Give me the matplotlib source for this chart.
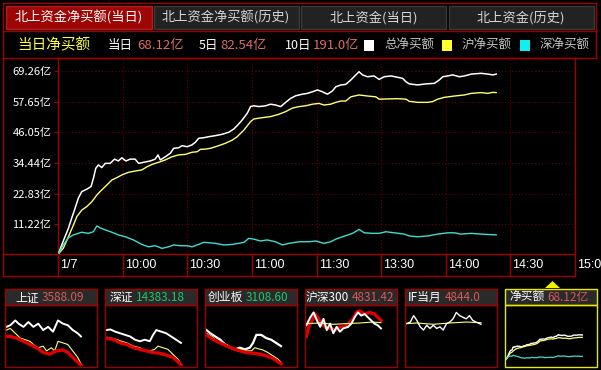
import matplotlib
matplotlib.use("Agg")
import matplotlib.pyplot as plt
from matplotlib.patches import Rectangle, Polygon
from matplotlib.lines import Line2D
from matplotlib.text import Annotation
from matplotlib.transforms import blended_transform_factory

CJK = ["Noto Sans CJK SC", "DejaVu Sans"]

# ---- main chart data (minutes since 9:30, lunch break removed; values in 亿) ----
total_t = [0, 1.6, 3.1, 4.7, 6.2, 7.8, 9.3, 10.9, 13.2, 15.2, 16.3, 17.4, 18.6, 20.2, 21.8, 24.1,
           26.1, 27.9, 29.5, 31.4, 33.4, 35.7, 37.3, 39.6, 42.7, 45.0, 46.3, 47.4, 49.7, 52.0, 53.6,
           55.9, 57.5, 59.8, 62.1, 63.7, 65.2, 67.5, 69.9, 73.0, 76.1, 79.2, 81.5, 83.1, 85.4, 87.8,
           89.3, 90.8, 93.2, 96.3, 98.6, 100.9, 103.3, 105.6, 107.9, 110.3, 113.4, 115.7, 118.0,
           120.4, 122.7, 125.0, 127.3, 128.9, 131.2, 133.5, 135.9, 138.2, 139.7, 141.3, 143.6, 146.7,
           149.0, 151.4, 154.5, 157.6, 159.9, 161.5, 163.0, 166.9, 170.8, 174.7, 177.0, 178.6, 180.9,
           183.2, 186.3, 188.6, 191.8, 196.4, 199.5, 201.9, 203.4]
total = [0, 3.4, 6.5, 9.7, 13.5, 17.3, 21.1, 23.6, 24.5, 25.5, 28.6, 32.4, 33.7, 32.7, 34.3, 34.3,
         35.9, 35.2, 36.4, 35.2, 35.9, 35.9, 34.3, 34.7, 35.2, 35.9, 37.5, 35.6, 36.8, 38.1, 40.0,
         40.2, 41.0, 40.6, 41.3, 42.3, 43.8, 44.0, 44.4, 44.8, 45.3, 46.1, 47.3, 48.6, 50.7, 53.3,
         55.8, 56.1, 55.8, 56.1, 56.7, 56.4, 55.8, 57.4, 58.9, 59.9, 60.5, 60.8, 61.4,
         62.1, 61.4, 60.5, 61.7, 63.3, 64.0, 64.2, 65.9, 67.8, 69.0, 67.8, 67.1, 67.4,
         66.1, 67.1, 67.4, 66.9, 66.5, 65.2, 64.4, 64.0, 64.4, 64.6, 65.9, 67.1, 67.4,
         67.8, 67.1, 67.4, 68.1, 68.4, 68.1, 67.8, 68.1]

sh_t = [0, 2.3, 4.7, 7.0, 8.6, 10.9, 13.2, 15.6, 17.9, 19.4, 21.8, 24.9, 27.2, 29.5, 32.6, 35.7,
        38.8, 41.2, 43.5, 46.6, 49.7, 52.8, 55.9, 59.0, 62.1, 64.5, 66.0, 68.3, 70.7, 74.5, 77.6,
        80.8, 83.1, 86.2, 89.3, 90.8, 94.7, 98.6, 102.5, 105.6, 108.7, 111.8, 114.9, 118.0, 121.1,
        123.4, 126.5, 128.9, 131.2, 133.5, 135.9, 139.7, 143.6, 147.5, 149.0, 153.0, 157.6, 161.5,
        163.0, 166.9, 171.6, 173.9, 176.2, 179.3, 184.0, 188.6, 191.8, 196.4, 199.5, 201.9, 203.4]
sh = [0, 2.1, 6.5, 10.9, 14.1, 16.6, 17.9, 19.8, 22.3, 23.6, 25.5, 28.0, 28.9, 29.9, 30.9, 31.4,
      31.8, 33.0, 33.9, 34.7, 35.6, 36.8, 37.5, 37.7, 38.5, 38.7, 39.6, 39.7, 40.0, 41.0, 41.9,
      43.1, 44.4, 46.9, 50.1, 51.1, 51.6, 52.0, 52.9, 53.9, 55.2, 55.8, 56.1, 56.7, 57.0,
      56.4, 56.7, 57.4, 57.9, 57.9, 59.5, 60.2, 59.8, 59.5, 58.6, 58.7, 58.8, 58.6,
      57.8, 57.4, 57.4, 57.7, 58.6, 59.3, 59.8, 60.2, 60.8, 61.1, 60.8, 61.2, 61.1]

sz_t = [0, 2.3, 4.7, 7.0, 9.3, 10.9, 14.0, 16.3, 17.9, 19.4, 21.8, 24.9, 27.9, 31.1, 34.9, 38.8,
        41.9, 45.0, 48.2, 51.2, 53.6, 56.7, 59.8, 62.1, 65.2, 67.5, 73.0, 76.9, 80.8, 83.8, 86.2,
        88.5, 90.8, 93.9, 97.0, 100.9, 104.1, 107.1, 111.8, 116.4, 119.6, 123.4, 126.5, 128.9,
        132.0, 136.7, 139.7, 142.1, 146.0, 149.0, 152.2, 156.0, 160.7, 163.0, 166.9, 171.6,
        176.2, 180.9, 184.0, 187.1, 191.8, 196.4, 203.4]
sz = [0, 3.4, 6.1, 7.2, 7.8, 8.2, 7.8, 8.4, 10.6, 9.9, 9.1, 8.2, 7.2, 6.5, 5.3, 3.6,
      2.7, 3.1, 2.1, 2.7, 3.4, 3.1, 3.1, 2.7, 3.6, 4.4, 4.0, 3.4, 3.6, 4.0, 4.4,
      5.9, 5.6, 4.9, 5.3, 4.6, 3.4, 4.0, 4.6, 4.6, 4.9, 4.0, 4.6, 5.6,
      6.5, 7.8, 9.3, 8.0, 7.8, 7.8, 8.4, 8.0, 7.5, 6.8, 6.5, 6.8,
      7.5, 8.0, 8.0, 7.5, 7.8, 7.5, 7.2]

y_levels = [11.22, 22.83, 34.44, 46.05, 57.65, 69.26]
time_ticks = [0, 30, 60, 90, 120, 150, 180, 210, 240]
time_labels = ["1/7", "10:00", "10:30", "11:00", "11:30", "13:30", "14:00", "14:30", "15:00"]

tabs = ["北上资金净买额(当日)", "北上资金净买额(历史)", "北上资金(当日)", "北上资金(历史)"]
period_names = ["当日", "5日", "10日"]
period_values = ["68.12亿", "82.54亿", "191.0亿"]
legend_names = ["总净买额", "沪净买额", "深净买额"]

# ---- thumbnails (relative levels) ----
thumb_names = ["上证", "深证", "创业板", "沪深300", "IF当月", "净买额"]
thumb_values = ["3588.09", "14383.18", "3108.60", "4831.42", "4844.0", "68.12亿"]
thumb_value_colors = ["#d85a5a", "#22c46a", "#22c46a", "#d85a5a", "#d85a5a", "#d85a5a"]

p1_white_t = [0, 10.6, 23.8, 32.6, 45.8, 59, 72.2, 85.4, 98.6, 111.8, 125, 138.2, 151.4, 164.6, 177.8, 191, 199.8]
p1_white = [122, 127, 142, 132, 122, 137, 122, 132, 112, 122, 107, 142, 132, 127, 112, 102, 92]
p1_yellow_t = [0, 10.6, 23.8, 37, 50.2, 63.4, 72.2, 85.4, 98.6, 107.4, 120.6, 129.4, 138.2, 151.4, 164.6, 177.8, 191, 199.8]
p1_yellow = [112, 117, 102, 87, 82, 77, 67, 57, 62, 47, 57, 47, 77, 72, 67, 47, 27, 7]
p1_red_t = [0, 10.6, 28.2, 45.8, 63.4, 81, 98.6, 116.2, 133.8, 151.4, 164.6, 177.8, 191, 199.8]
p1_red = [92, 92, 87, 77, 67, 57, 42, 37, 47, 50, 42, 27, 12, 2]

p2_white_t = [0, 10.6, 23.8, 37, 50.2, 63.4, 76.6, 89.8, 103, 116.2, 125, 133.8, 147, 160.2, 173.4, 186.6, 199.8]
p2_white = [112, 114, 107, 102, 97, 92, 82, 77, 82, 77, 97, 112, 107, 102, 92, 82, 72]
p2_yellow_t = [0, 15, 28.2, 41.4, 54.6, 72.2, 89.8, 103, 116.2, 129.4, 138.2, 151.4, 164.6, 177.8, 191, 199.8]
p2_yellow = [87, 87, 82, 77, 72, 62, 57, 47, 47, 52, 62, 57, 52, 37, 22, 7]
p2_red_t = [0, 19.4, 37, 54.6, 72.2, 89.8, 107.4, 125, 142.6, 160.2, 177.8, 191, 199.8]
p2_red = [87, 82, 72, 67, 57, 52, 47, 42, 40, 34, 27, 14, 4]

p3_white_t = [0, 10.6, 23.8, 37, 50.2, 63.4, 76.6, 89.8, 103, 116.2, 125, 133.8, 147, 160.2, 173.4, 186.6, 199.8]
p3_white = [112, 102, 92, 82, 67, 57, 52, 57, 52, 57, 72, 97, 97, 87, 82, 72, 62]
p3_yellow_t = [0, 15, 28.2, 41.4, 54.6, 67.8, 81, 94.2, 107.4, 120.6, 129.4, 138.2, 151.4, 164.6, 177.8, 191, 199.8]
p3_yellow = [102, 92, 77, 67, 67, 57, 52, 52, 47, 47, 57, 54, 50, 42, 32, 22, 12]
p3_red_t = [0, 19.4, 37, 54.6, 72.2, 89.8, 107.4, 125, 142.6, 160.2, 177.8, 191, 199.8]
p3_red = [97, 82, 72, 62, 54, 47, 42, 40, 37, 32, 24, 14, 7]

p4_white_t = [0, 10.6, 19.4, 28.2, 37, 45.8, 54.6, 63.4, 72.2, 81, 89.8, 98.6, 111.8, 120.6, 129.4,
              138.2, 147, 155.8, 164.6, 173.4, 182.2, 191, 199.8]
p4_white = [127, 152, 167, 142, 122, 147, 112, 132, 102, 122, 107, 117, 122, 132, 152,
            167, 157, 162, 152, 142, 132, 127, 117]
p4_yellow_t = [0, 37, 72.2, 107.4, 142.6, 177.8, 199.8]
p4_yellow = [132, 134, 130, 132, 134, 137, 135]
p4_red_t = [0, 6.2, 15, 23.8, 32.6, 41.4, 50.2, 63.4, 76.6, 89.8, 103, 116.2, 125, 133.8, 142.6,
            155.8, 169, 182.2, 191, 199.8]
p4_red = [92, 122, 142, 162, 147, 132, 122, 117, 112, 122, 122, 137, 147, 167, 172,
          162, 167, 162, 152, 142]

p5_white_t = [0, 10.6, 19.4, 28.2, 37, 45.8, 54.6, 63.4, 72.2, 81, 89.8, 98.6, 107.4, 116.2, 125,
              133.8, 142.6, 151.4, 160.2, 169, 177.8, 186.6, 199.8]
p5_white = [132, 137, 157, 142, 122, 112, 127, 117, 127, 117, 122, 112, 132, 137, 147,
            167, 157, 152, 147, 157, 142, 137, 130]
p5_yellow_t = [0, 28.2, 72.2, 116.2, 160.2, 199.8]
p5_yellow = [132, 134, 130, 134, 137, 135]

# ---- colours ----
BG = "black"
RED = "#a00000"
GRID = "#6a0000"
WHITE_LINE = "white"
YELLOW_LINE = "#ffff70"
CYAN_LINE = "#3fdcd0"
THICK_RED = "#e00000"

W, H = 601, 370
fig = plt.figure(figsize=(W / 100, H / 100), dpi=100, facecolor=BG)


def fx(px):
    return px / W


def fy(py):
    return 1 - py / H


def box(x0, y0, x1, y1, fc="none", ec="none", lw=1.0, z=1):
    fig.add_artist(Rectangle((fx(x0), fy(y1)), (x1 - x0) / W, (y1 - y0) / H,
                             transform=fig.transFigure, facecolor=fc, edgecolor=ec,
                             linewidth=lw, zorder=z))


def line(x0, y0, x1, y1, color=RED, lw=1.0):
    fig.add_artist(Line2D([fx(x0), fx(x1)], [fy(y0), fy(y1)], transform=fig.transFigure,
                          color=color, linewidth=lw, zorder=2))


def text(x, y, s, color="white", size=9, ha="left", family=CJK):
    return fig.text(fx(x), fy(y), s, color=color, fontsize=size, ha=ha, va="center",
                    family=family)


# ---- tabs ----
for i, name in enumerate(tabs):
    x0 = 6 + i * 147.5
    if i == 0:
        box(x0, 6, x0 + 146, 29, fc="#9e0606", ec="#b02020")
        text(x0 + 73, 17.5, name, color="white", size=9.5, ha="center")
    else:
        box(x0, 6, x0 + 145, 29, fc="#222222", ec="#3a3a3a")
        text(x0 + 72.5, 17.5, name, color="#d6d6d6", size=9.5, ha="center")

# frame lines
line(3, 3, 596, 3)
line(3, 31, 596, 31)
line(3, 58, 596, 58)
line(3, 3, 3, 276)
line(596, 3, 596, 58)
line(3, 276, 575, 276)
line(3, 254, 58, 254)

# ---- second row ----
text(17, 45, "当日净买额", color="#ffff40", size=10.5)
px_names = [108, 199, 285]
px_vals = [137, 220, 313]
for nm, val, xn, xv in zip(period_names, period_values, px_names, px_vals):
    text(xn, 45, nm, color="white", size=9)
    text(xv, 45, val, color="#e06a6a", size=9.5)
for nm, col, xs in zip(legend_names, [WHITE_LINE, "#ffff30", "#10f0f0"], [364, 442, 520]):
    box(xs, 40, xs + 10, 51, fc=col)
    text(xs + 20, 45.5, nm, color="#c4c4c4", size=9)

# ---- main chart ----
ax = fig.add_axes([fx(58.3), fy(254), (575 - 58.3) / W, (254 - 58) / H], facecolor=BG)
ax.plot(total_t, total, color=WHITE_LINE, lw=1.1, zorder=3)
ax.plot(sh_t, sh, color=YELLOW_LINE, lw=1.0, zorder=3)
ax.plot(sz_t, sz, color=CYAN_LINE, lw=1.0, zorder=3)
ax.set_xlim(0, 240)
ax.set_ylim(-0.03, 74.2)
ax.set_yticks(y_levels, [f"{v:.2f}亿" for v in y_levels], family=CJK)
ax.set_xticks(time_ticks)
ax.tick_params(axis="y", colors=RED, labelcolor="white", labelsize=8, length=3, pad=2)
ax.tick_params(axis="x", length=0, labelbottom=False)
ax.grid(True, color=GRID, linestyle=(0, (1, 2)), linewidth=0.8)
for s in ax.spines.values():
    s.set_color(RED)
    s.set_linewidth(1.0)

tr = blended_transform_factory(ax.transData, ax.transAxes)
ax.vlines(time_ticks, -0.112, 0, transform=tr, color=RED, lw=1.0, clip_on=False)
for t, lab in zip(time_ticks, time_labels):
    ax.text(t + 0.9, -0.057, lab, transform=tr, color="white", fontsize=9,
            family="Liberation Sans", ha="left", va="center", clip_on=False)

# ---- thumbnails ----
thumb_series = [
    [(p1_white_t, p1_white, WHITE_LINE, 1.4), (p1_yellow_t, p1_yellow, YELLOW_LINE, 0.8),
     (p1_red_t, p1_red, THICK_RED, 2.4)],
    [(p2_white_t, p2_white, WHITE_LINE, 1.4), (p2_yellow_t, p2_yellow, YELLOW_LINE, 0.8),
     (p2_red_t, p2_red, THICK_RED, 2.4)],
    [(p3_white_t, p3_white, WHITE_LINE, 1.6), (p3_yellow_t, p3_yellow, YELLOW_LINE, 0.8),
     (p3_red_t, p3_red, THICK_RED, 2.4)],
    [(p4_red_t, p4_red, THICK_RED, 2.4), (p4_yellow_t, p4_yellow, YELLOW_LINE, 0.8),
     (p4_white_t, p4_white, WHITE_LINE, 1.4)],
    [(p5_yellow_t, p5_yellow, YELLOW_LINE, 0.8), (p5_white_t, p5_white, WHITE_LINE, 1.0)],
    [(total_t, total, WHITE_LINE, 1.0), (sh_t, sh, YELLOW_LINE, 0.9), (sz_t, sz, CYAN_LINE, 0.9)],
]
name_offsets = [10, 5, 3, 1, 3, 4]

for i in range(6):
    x0 = 5 + i * 100
    edge = "#e8e800" if i == 5 else RED
    box(x0, 289, x0 + 92, 305, fc="#2a2a2a", ec=edge)
    box(x0, 305, x0 + 92, 367, fc="none", ec=edge)
    nt = text(x0 + name_offsets[i], 297.5, thumb_names[i], color="white", size=8.5)
    fig.add_artist(Annotation(
        thumb_values[i], xy=(1, 0.5), xycoords=nt, xytext=(2, 0), textcoords="offset points",
        color=thumb_value_colors[i], fontsize=8.5, family=CJK, ha="left", va="center"))

    m = fig.add_axes([fx(x0 + 1), fy(366), 90 / W, 60 / H], facecolor=BG)
    m.set_axis_off()
    for tt, vv, col, lw in thumb_series[i]:
        m.plot(tt, vv, color=col, lw=lw)
    m.set_xlim(-1, 240)
    if i == 5:
        m.set_ylim(-20, 150)
    else:
        m.set_ylim(0, 187)

fig.add_artist(Polygon([(fx(545), fy(288)), (fx(560), fy(288)), (fx(552.5), fy(281))],
                       closed=True, transform=fig.transFigure, facecolor="#f0f000",
                       edgecolor="none"))

fig.savefig("out.png", dpi=100, facecolor=BG)
